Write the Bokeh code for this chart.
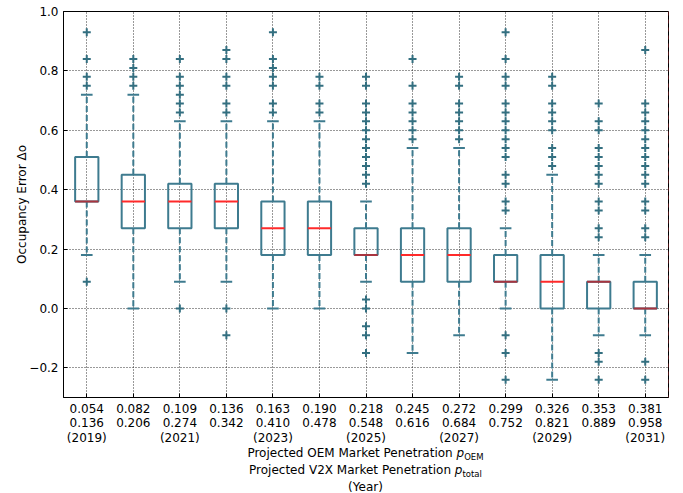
from bokeh.plotting import figure
from bokeh.models import FixedTicker, Span, ColumnDataSource, Div
from bokeh.layouts import column
from bokeh.embed import file_html
from bokeh.resources import INLINE

# ---- data ----
positions = list(range(1, 14))
oem_pen = ["0.054", "0.082", "0.109", "0.136", "0.163", "0.190", "0.218",
           "0.245", "0.272", "0.299", "0.326", "0.353", "0.381"]
total_pen = ["0.136", "0.206", "0.274", "0.342", "0.410", "0.478", "0.548",
             "0.616", "0.684", "0.752", "0.821", "0.889", "0.958"]
years = ["(2019)", "", "(2021)", "", "(2023)", "", "(2025)", "", "(2027)", "",
         "(2029)", "", "(2031)"]

q1 = [0.36, 0.27, 0.27, 0.27, 0.18, 0.18, 0.18, 0.09, 0.09, 0.09, 0.00, 0.00, 0.00]
med = [0.36, 0.36, 0.36, 0.36, 0.27, 0.27, 0.18, 0.18, 0.18, 0.09, 0.09, 0.09, 0.00]
q3 = [0.51, 0.45, 0.42, 0.42, 0.36, 0.36, 0.27, 0.27, 0.27, 0.18, 0.18, 0.09, 0.09]
w_lo = [0.18, 0.00, 0.09, 0.09, 0.00, 0.00, 0.09, -0.15, -0.09, 0.00, -0.24, -0.09, -0.09]
w_hi = [0.72, 0.72, 0.63, 0.63, 0.63, 0.63, 0.36, 0.54, 0.54, 0.27, 0.45, 0.18, 0.18]

fliers = [
    [0.09, 0.75, 0.78, 0.84, 0.93],
    [0.75, 0.78, 0.81, 0.84],
    [0.00, 0.66, 0.69, 0.72, 0.75, 0.78, 0.84],
    [-0.09, 0.00, 0.66, 0.69, 0.75, 0.78, 0.84, 0.87],
    [0.66, 0.69, 0.75, 0.78, 0.81, 0.84, 0.93],
    [0.66, 0.69, 0.75, 0.78],
    [-0.15, -0.09, -0.06, 0.00, 0.03, 0.42, 0.45, 0.48, 0.51, 0.54, 0.57, 0.60,
     0.63, 0.66, 0.69, 0.75, 0.78],
    [0.57, 0.60, 0.63, 0.66, 0.69, 0.75, 0.84],
    [0.57, 0.60, 0.63, 0.66, 0.69, 0.75, 0.78],
    [-0.24, -0.15, -0.09, 0.33, 0.36, 0.42, 0.45, 0.51, 0.54, 0.57, 0.60, 0.63,
     0.66, 0.69, 0.75, 0.78, 0.84, 0.93],
    [0.48, 0.51, 0.54, 0.60, 0.63, 0.66, 0.69, 0.75, 0.78],
    [-0.24, -0.18, -0.15, 0.24, 0.27, 0.33, 0.36, 0.42, 0.45, 0.48, 0.51, 0.54,
     0.60, 0.63, 0.69],
    [-0.24, -0.18, 0.24, 0.27, 0.33, 0.36, 0.42, 0.45, 0.48, 0.51, 0.54, 0.57,
     0.60, 0.63, 0.66, 0.69, 0.87],
]

y_ticks = [-0.2, 0.0, 0.2, 0.4, 0.6, 0.8, 1.0]
y_tick_labels = ["\u22120.2", "0.0", "0.2", "0.4", "0.6", "0.8", "1.0"]

# ---- style ----
BOX = "#3e7b8f"
FLIER = "#336f80"
FONT = "DejaVu Sans"

p = figure(width=683, height=451, output_backend="svg", toolbar_location=None,
           x_range=(0.5, 13.5), y_range=(-0.3, 1.0),
           min_border_left=63, min_border_right=15, min_border_top=11,
           min_border_bottom=54)
p.background_fill_color = "white"
p.border_fill_color = "white"
p.outline_line_color = "black"
p.outline_line_width = 1

# grid
for g in (p.xgrid, p.ygrid):
    g.grid_line_color = "black"
    g.grid_line_dash = "1 2"
    g.grid_line_width = 1
    g.grid_line_alpha = 0.8
p.xgrid.ticker = FixedTicker(ticks=positions)
p.ygrid.ticker = FixedTicker(ticks=y_ticks)

# axes
p.xaxis.ticker = FixedTicker(ticks=positions)
p.xaxis.major_label_overrides = {
    pos: (o + "\n" + t + ("\n" + y if y else ""))
    for pos, o, t, y in zip(positions, oem_pen, total_pen, years)
}
p.xaxis.major_label_text_line_height = 1.07
p.yaxis.ticker = FixedTicker(ticks=y_ticks)
p.yaxis.major_label_overrides = {v: s for v, s in zip(y_ticks, y_tick_labels)}
for ax in (p.xaxis, p.yaxis):
    ax.major_tick_in = 4
    ax.major_tick_out = 0
    ax.minor_tick_line_color = None
    ax.axis_line_color = "black"
    ax.major_tick_line_color = "black"
    ax.major_label_text_font = FONT
    ax.major_label_text_font_size = "12px"
    ax.major_label_text_color = "black"
p.xaxis.major_label_standoff = 4
p.yaxis.major_label_standoff = 5
p.yaxis.axis_label = "Occupancy Error \u0394o"
p.yaxis.axis_label_text_font = FONT
p.yaxis.axis_label_text_font_size = "12px"
p.yaxis.axis_label_text_font_style = "normal"
p.yaxis.axis_label_text_color = "black"
p.yaxis.axis_label_standoff = -3

# boxes
src = ColumnDataSource(dict(
    x=positions, q1=q1, med=med, q3=q3, lo=w_lo, hi=w_hi,
    left=[x - 0.25 for x in positions], right=[x + 0.25 for x in positions],
    cl=[x - 0.125 for x in positions], cr=[x + 0.125 for x in positions],
    mcol=["#a8343f" if (m == a or m == b) else "#ff2a2a"
          for m, a, b in zip(med, q1, q3)],
))

# whiskers (dashed)
p.segment(x0="x", y0="q3", x1="x", y1="hi", source=src, line_color=BOX,
          line_width=2, line_dash="6 3")
p.segment(x0="x", y0="q1", x1="x", y1="lo", source=src, line_color=BOX,
          line_width=2, line_dash="6 3")
# caps
p.segment(x0="cl", y0="hi", x1="cr", y1="hi", source=src, line_color=BOX, line_width=2)
p.segment(x0="cl", y0="lo", x1="cr", y1="lo", source=src, line_color=BOX, line_width=2)
# box
p.quad(left="left", right="right", bottom="q1", top="q3", source=src,
       fill_color=None, line_color=BOX, line_width=2)
# median
p.segment(x0="left", y0="med", x1="right", y1="med", source=src,
          line_color="mcol", line_width=2)

# fliers
fx, fy = [], []
for pos, fl in zip(positions, fliers):
    for v in fl:
        fx.append(pos)
        fy.append(v)
p.scatter(fx, fy, marker="cross", size=8, line_color=FLIER, line_width=2)

# right edge dashed line
p.add_layout(Span(location=13.5, dimension="height", line_color="#8b1c24",
                  line_dash="4 4", line_width=1))

# ---- x axis label (three lines, with italic symbol and subscript) ----
sub = "font-size:8.5px;position:relative;top:3px;"
xlabel_html = (
    '<div style="position:relative;top:-6px;width:605px;margin-left:63px;'
    'text-align:center;font-family:\'DejaVu Sans\';font-size:12px;'
    'line-height:16px;color:black;">'
    'Projected OEM Market Penetration <i>p</i><span style="' + sub + '">OEM</span><br>'
    'Projected V2X Market Penetration <i>p</i><span style="' + sub + '">total</span><br>'
    '(Year)</div>'
)
xlabel = Div(text=xlabel_html, width=683, height=42, margin=0)

layout = column(p, xlabel, spacing=0)

open("out.html", "w").write(file_html(layout, INLINE))
